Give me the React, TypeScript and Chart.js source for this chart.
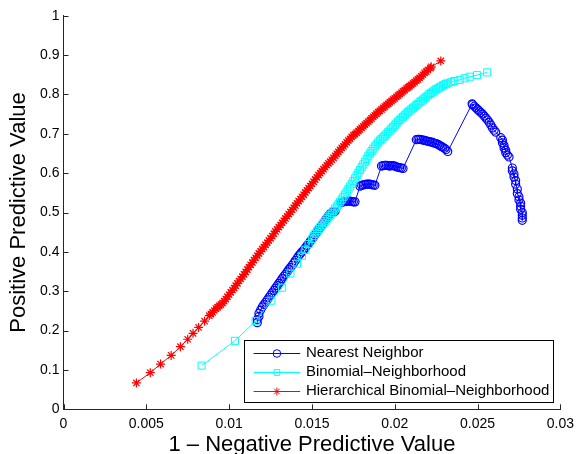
import React, { useEffect, useRef } from 'react';
import { Chart, registerables } from 'chart.js';
import { drawPoint } from 'chart.js/helpers';

Chart.register(...registerables);

const FONT = "'Liberation Sans', Arial, Helvetica, sans-serif";

const seriesNames = ['Nearest Neighbor', 'Binomial\u2013Neighborhood', 'Hierarchical Binomial\u2013Neighborhood'];
const seriesColors = ['#0000ff', '#00ffff', '#ff0000'];
const seriesMarkers = ['circle', 'rect', 'star'];

const xTitle = '1 \u2013 Negative Predictive Value';
const yTitle = 'Positive Predictive Value';

const xTickValues = [0, 0.005, 0.01, 0.015, 0.02, 0.025, 0.03];
const xTickLabels = ['0', '0.005', '0.01', '0.015', '0.02', '0.025', '0.03'];
const yTickValues = [0, 0.1, 0.2, 0.3, 0.4, 0.5, 0.6, 0.7, 0.8, 0.9, 1];
const yTickLabels = ['0', '0.1', '0.2', '0.3', '0.4', '0.5', '0.6', '0.7', '0.8', '0.9', '1'];

// Nearest Neighbor
const nnX = [
  0.0117, 0.0117, 0.0118, 0.0118, 0.0119, 0.0120, 0.0121, 0.0122, 0.0123, 0.0124,
  0.0125, 0.0126, 0.0127, 0.0128, 0.0129, 0.0130, 0.0131, 0.0132, 0.0133, 0.0134,
  0.0135, 0.0136, 0.0137, 0.0138, 0.0139, 0.0140, 0.0141, 0.0142, 0.0143, 0.0144,
  0.0145, 0.0146, 0.0147, 0.0148, 0.0149, 0.0150, 0.0151, 0.0152, 0.0153, 0.0154,
  0.0155, 0.0156, 0.0157, 0.0158, 0.0159, 0.0160, 0.0161, 0.0162, 0.0163, 0.0164,
  0.0168, 0.0169, 0.0170, 0.0171, 0.0172, 0.0173, 0.0174, 0.0175, 0.0176,
  0.0179, 0.0180, 0.0181, 0.0182, 0.0183, 0.0184, 0.0185, 0.0186, 0.0187, 0.0188,
  0.0192, 0.0193, 0.0194, 0.0195, 0.0196, 0.0197, 0.0198, 0.0199, 0.0200, 0.0201, 0.0202, 0.0203, 0.0204, 0.0205,
  0.0213, 0.0214, 0.0215, 0.0216, 0.0217, 0.0218, 0.0219, 0.0220, 0.0221, 0.0222,
  0.0223, 0.0224, 0.0225, 0.0226, 0.0227, 0.0228, 0.0229, 0.0230, 0.0231, 0.0232,
  0.02467, 0.0247, 0.0248, 0.0249, 0.0250, 0.0251, 0.0252, 0.0253, 0.0254, 0.0255,
  0.0256, 0.0257, 0.0258, 0.0259, 0.0260, 0.0261,
  0.0264, 0.0265, 0.0265, 0.0266, 0.0266, 0.0267, 0.0267, 0.0268, 0.0269,
  0.0271, 0.0271, 0.0272, 0.0272, 0.0273, 0.0273, 0.0274,
  0.0274, 0.0275, 0.0275, 0.0276, 0.0276, 0.0276, 0.0277, 0.0277, 0.0277, 0.0277,
];
const nnY = [
  0.220, 0.228, 0.236, 0.244, 0.252, 0.260, 0.266, 0.272, 0.278, 0.284,
  0.290, 0.296, 0.302, 0.308, 0.314, 0.320, 0.326, 0.332, 0.338, 0.343,
  0.349, 0.355, 0.360, 0.366, 0.372, 0.378, 0.384, 0.390, 0.395, 0.400,
  0.405, 0.410, 0.416, 0.421, 0.427, 0.432, 0.438, 0.444, 0.450, 0.456,
  0.462, 0.468, 0.474, 0.480, 0.486, 0.492, 0.497, 0.500, 0.502, 0.503,
  0.526, 0.527, 0.528, 0.528, 0.529, 0.529, 0.528, 0.527, 0.527,
  0.567, 0.569, 0.570, 0.571, 0.572, 0.572, 0.572, 0.571, 0.570, 0.569,
  0.618, 0.619, 0.620, 0.620, 0.619, 0.618, 0.619, 0.619, 0.618, 0.616, 0.615, 0.614, 0.613, 0.612,
  0.685, 0.686, 0.686, 0.685, 0.684, 0.683, 0.682, 0.681, 0.680, 0.679,
  0.678, 0.676, 0.675, 0.673, 0.671, 0.668, 0.666, 0.663, 0.660, 0.655,
  0.776, 0.774, 0.770, 0.766, 0.762, 0.758, 0.754, 0.750, 0.745, 0.740,
  0.735, 0.729, 0.722, 0.715, 0.709, 0.704,
  0.690, 0.684, 0.677, 0.670, 0.664, 0.658, 0.652, 0.646, 0.641,
  0.613, 0.606, 0.598, 0.590, 0.581, 0.572, 0.560,
  0.548, 0.540, 0.532, 0.524, 0.516, 0.508, 0.500, 0.493, 0.486, 0.480,
];

// Binomial-Neighborhood
const binX = [
  0.00834, 0.01035, 0.0116, 0.01255, 0.0132, 0.0137, 0.0141, 0.0144, 0.0146, 0.0148,
  0.0150, 0.0151, 0.0152, 0.0153, 0.0154, 0.0155, 0.0156, 0.0157, 0.0158, 0.0159,
  0.0160, 0.0161, 0.0162, 0.0163, 0.0164, 0.0165, 0.0166, 0.0167, 0.0168, 0.0169,
  0.0170, 0.0171, 0.0172, 0.0173, 0.0174, 0.0175, 0.0176, 0.0177, 0.0178, 0.0179,
  0.0180, 0.0181, 0.0182, 0.0183, 0.0184, 0.0185, 0.0186, 0.0187, 0.0188, 0.0189,
  0.0190, 0.0191, 0.0192, 0.0193, 0.0194, 0.0195, 0.0196, 0.0197, 0.0198, 0.0199,
  0.0200, 0.0201, 0.0202, 0.0203, 0.0204, 0.0205, 0.0206, 0.0207, 0.0208, 0.0209,
  0.0210, 0.0211, 0.0212, 0.0213, 0.0214, 0.0215, 0.0216, 0.0217, 0.0218, 0.0219,
  0.0220, 0.0221, 0.0222, 0.0223, 0.0224, 0.0225, 0.0226, 0.0227, 0.0228, 0.0229,
  0.0230, 0.0231, 0.0232, 0.0234, 0.0236,
  0.02392, 0.02422, 0.02452, 0.02497, 0.02558,
];
const binY = [
  0.111, 0.174, 0.224, 0.276, 0.309, 0.345, 0.370, 0.390, 0.405, 0.420,
  0.433, 0.440, 0.446, 0.452, 0.458, 0.463, 0.468, 0.473, 0.478, 0.484,
  0.489, 0.494, 0.499, 0.504, 0.510, 0.515, 0.521, 0.527, 0.533, 0.540,
  0.546, 0.553, 0.559, 0.566, 0.573, 0.580, 0.587, 0.594, 0.601, 0.608,
  0.615, 0.622, 0.629, 0.636, 0.643, 0.650, 0.656, 0.662, 0.668, 0.673,
  0.678, 0.683, 0.687, 0.691, 0.695, 0.699, 0.704, 0.708, 0.713, 0.717,
  0.722, 0.726, 0.731, 0.735, 0.739, 0.743, 0.747, 0.751, 0.755, 0.759,
  0.762, 0.766, 0.769, 0.773, 0.776, 0.780, 0.783, 0.787, 0.790, 0.794,
  0.797, 0.801, 0.804, 0.807, 0.810, 0.813, 0.815, 0.818, 0.820, 0.823,
  0.825, 0.827, 0.828, 0.831, 0.834,
  0.837, 0.841, 0.845, 0.849, 0.856,
];

// Hierarchical Binomial-Neighborhood
const hierX = [
  0.0044, 0.00524, 0.00586, 0.0065, 0.00706, 0.0075, 0.00782, 0.00816, 0.00852, 0.0088,
  0.0089, 0.0090, 0.0091, 0.0092, 0.0093, 0.0094, 0.0095, 0.0096, 0.0097, 0.0098,
  0.0099, 0.0100, 0.0101, 0.0102, 0.0103, 0.0104, 0.0105, 0.0106, 0.0107, 0.0108,
  0.0109, 0.0110, 0.0111, 0.0112, 0.0113, 0.0114, 0.0115, 0.0116, 0.0117, 0.0118,
  0.0119, 0.0120, 0.0121, 0.0122, 0.0123, 0.0124, 0.0125, 0.0126, 0.0127, 0.0128,
  0.0129, 0.0130, 0.0131, 0.0132, 0.0133, 0.0134, 0.0135, 0.0136, 0.0137, 0.0138,
  0.0139, 0.0140, 0.0141, 0.0142, 0.0143, 0.0144, 0.0145, 0.0146, 0.0147, 0.0148,
  0.0149, 0.0150, 0.0151, 0.0152, 0.0153, 0.0154, 0.0155, 0.0156, 0.0157, 0.0158,
  0.0159, 0.0160, 0.0161, 0.0162, 0.0163, 0.0164, 0.0165, 0.0166, 0.0167, 0.0168,
  0.0169, 0.0170, 0.0171, 0.0172, 0.0173, 0.0174, 0.0175, 0.0176, 0.0177, 0.0178,
  0.0179, 0.0180, 0.0181, 0.0182, 0.0183, 0.0184, 0.0185, 0.0186, 0.0187, 0.0188,
  0.0189, 0.0190, 0.0191, 0.0192, 0.0193, 0.0194, 0.0195, 0.0196, 0.0197, 0.0198,
  0.0199, 0.0200, 0.0201, 0.0202, 0.0203, 0.0204, 0.0205, 0.0206, 0.0207, 0.0208,
  0.0209, 0.0210, 0.0211, 0.0212, 0.0213, 0.0214, 0.0215, 0.0216, 0.0217, 0.0218,
  0.0219, 0.0220, 0.02215, 0.0222, 0.02278,
];
const hierY = [
  0.067, 0.093, 0.115, 0.137, 0.159, 0.178, 0.193, 0.208, 0.224, 0.238,
  0.242, 0.246, 0.251, 0.256, 0.259, 0.263, 0.266, 0.270, 0.275, 0.280,
  0.286, 0.291, 0.297, 0.303, 0.308, 0.314, 0.320, 0.326, 0.331, 0.337,
  0.343, 0.349, 0.355, 0.361, 0.367, 0.373, 0.379, 0.385, 0.390, 0.396,
  0.401, 0.407, 0.412, 0.418, 0.423, 0.429, 0.434, 0.440, 0.446, 0.452,
  0.457, 0.463, 0.468, 0.474, 0.479, 0.485, 0.490, 0.496, 0.501, 0.507,
  0.512, 0.518, 0.523, 0.529, 0.534, 0.540, 0.545, 0.551, 0.556, 0.562,
  0.567, 0.573, 0.578, 0.584, 0.589, 0.595, 0.600, 0.605, 0.610, 0.615,
  0.620, 0.625, 0.629, 0.634, 0.639, 0.644, 0.649, 0.654, 0.659, 0.664,
  0.668, 0.673, 0.678, 0.683, 0.687, 0.692, 0.696, 0.699, 0.703, 0.707,
  0.711, 0.715, 0.719, 0.723, 0.727, 0.731, 0.735, 0.739, 0.743, 0.747,
  0.751, 0.755, 0.758, 0.762, 0.766, 0.769, 0.773, 0.776, 0.780, 0.783,
  0.787, 0.790, 0.794, 0.797, 0.801, 0.804, 0.808, 0.811, 0.815, 0.818,
  0.821, 0.824, 0.828, 0.831, 0.835, 0.838, 0.842, 0.846, 0.850, 0.855,
  0.858, 0.862, 0.867, 0.870, 0.885,
];

const toPoints = (xs: number[], ys: number[]) => xs.map((x, i) => ({ x, y: ys[i] }));

const inwardTicks = {
  id: 'inwardTicks',
  beforeDatasetsDraw(chart: any) {
    const { ctx, chartArea } = chart;
    const xs = chart.scales.x;
    const ys = chart.scales.y;
    ctx.save();
    ctx.strokeStyle = '#262626';
    ctx.lineWidth = 1;
    ctx.beginPath();
    xs.ticks.forEach((t: any) => {
      const px = Math.round(xs.getPixelForValue(t.value)) + 0.5;
      ctx.moveTo(px, chartArea.bottom);
      ctx.lineTo(px, chartArea.bottom - 5);
    });
    ys.ticks.forEach((t: any) => {
      const py = Math.round(ys.getPixelForValue(t.value)) + 0.5;
      ctx.moveTo(chartArea.left, py);
      ctx.lineTo(chartArea.left + 5, py);
    });
    ctx.stroke();
    ctx.restore();
  },
};

const boxLegend = {
  id: 'boxLegend',
  afterDraw(chart: any) {
    const { ctx, chartArea } = chart;
    ctx.save();
    ctx.font = `15px ${FONT}`;
    const maxW = Math.max(...seriesNames.map((n) => ctx.measureText(n).width));
    const rowH = 18.9;
    const padL = 10;
    const lineLen = 46.6;
    const gap = 5.7;
    const padR = 3;
    const boxW = padL + lineLen + gap + maxW + padR;
    const boxH = 61.7;
    const right = chartArea.right - 8;
    const bottom = chartArea.bottom - 7.6;
    const left = right - boxW;
    const top = bottom - boxH;
    ctx.fillStyle = '#ffffff';
    ctx.fillRect(left, top, boxW, boxH);
    ctx.strokeStyle = '#000000';
    ctx.lineWidth = 1;
    ctx.strokeRect(Math.round(left) + 0.5, Math.round(top) + 0.5, Math.round(boxW), Math.round(boxH));
    seriesNames.forEach((name, i) => {
      const cy = top + 13.3 + i * rowH;
      const x0 = left + padL;
      ctx.strokeStyle = seriesColors[i];
      ctx.lineWidth = 1;
      ctx.beginPath();
      ctx.moveTo(x0, Math.round(cy) + 0.5);
      ctx.lineTo(x0 + lineLen, Math.round(cy) + 0.5);
      ctx.stroke();
      ctx.fillStyle = 'rgba(0,0,0,0)';
      drawPoint(ctx, { pointStyle: seriesMarkers[i], rotation: 0, radius: i === 0 ? 3.8 : 4, borderWidth: 1 } as any, x0 + lineLen / 2, Math.round(cy) + 0.5);
      ctx.fillStyle = '#000000';
      ctx.textBaseline = 'middle';
      ctx.textAlign = 'left';
      ctx.fillText(name, x0 + lineLen + gap, cy);
    });
    ctx.restore();
  },
};

export default function App() {
  const canvasRef = useRef<HTMLCanvasElement | null>(null);

  useEffect(() => {
    const canvas = canvasRef.current;
    if (!canvas) return;
    const mk = (i: number, xs: number[], ys: number[], radius: number, bw: number, order: number) => ({
      label: seriesNames[i],
      data: toPoints(xs, ys),
      showLine: true,
      borderColor: seriesColors[i],
      borderWidth: 1,
      backgroundColor: seriesColors[i],
      pointStyle: seriesMarkers[i],
      pointRadius: radius,
      pointBorderColor: seriesColors[i],
      pointBackgroundColor: 'rgba(0,0,0,0)',
      pointBorderWidth: bw,
      tension: 0,
      order,
    });
    const chart = new Chart(canvas, {
      type: 'scatter',
      data: {
        datasets: [
          mk(0, nnX, nnY, 4, 1.2, 3),
          mk(1, binX, binY, 5, 1, 2),
          mk(2, hierX, hierY, 4.5, 1.2, 1),
        ],
      },
      options: {
        animation: false,
        responsive: false,
        devicePixelRatio: 1,
        layout: { padding: { left: 0, right: 17, top: 15.7, bottom: 0 } },
        plugins: { legend: { display: false }, tooltip: { enabled: false } },
        scales: {
          x: {
            type: 'linear',
            min: 0,
            max: 0.03,
            afterBuildTicks: (s: any) => {
              s.ticks = xTickValues.map((v) => ({ value: v }));
            },
            afterFit: (s: any) => {
              s.height = 44.7;
            },
            grid: { display: false, drawTicks: false },
            border: { display: true, color: '#262626', width: 1 },
            ticks: {
              autoSkip: false,
              maxRotation: 0,
              padding: 6,
              color: '#000',
              font: { family: FONT, size: 14 },
              callback: (_v: any, i: number) => xTickLabels[i],
            },
            title: {
              display: true,
              text: xTitle,
              color: '#000',
              font: { family: FONT, size: 22, lineHeight: 0.85 },
              padding: { top: 0, bottom: 0 },
            },
          },
          y: {
            type: 'linear',
            min: 0,
            max: 1,
            afterBuildTicks: (s: any) => {
              s.ticks = yTickValues.map((v) => ({ value: v }));
            },
            afterFit: (s: any) => {
              s.width = 63.5;
            },
            grid: { display: false, drawTicks: false },
            border: { display: true, color: '#262626', width: 1 },
            ticks: {
              autoSkip: false,
              padding: 4,
              color: '#000',
              font: { family: FONT, size: 14 },
              callback: (_v: any, i: number) => yTickLabels[i],
            },
            title: {
              display: true,
              text: yTitle,
              color: '#000',
              font: { family: FONT, size: 22, lineHeight: 1.2 },
              padding: { top: 6, bottom: 0 },
            },
          },
        },
      },
      plugins: [inwardTicks, boxLegend],
    });
    return () => chart.destroy();
  }, []);

  return (
    <div style={{ position: 'fixed', left: 0, top: 0, width: 580, height: 454, background: '#fff' }}>
      <canvas ref={canvasRef} width={580} height={454} style={{ display: 'block' }} />
    </div>
  );
}
